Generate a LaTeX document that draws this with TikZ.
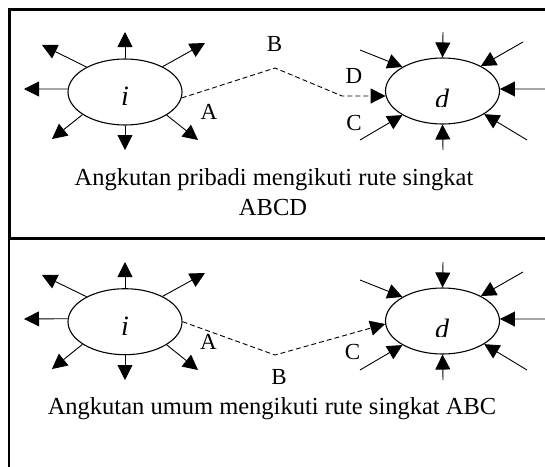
\documentclass[tikz,border=0pt]{standalone}
\usepackage{fontspec}
\setmainfont{Liberation Serif}
\usetikzlibrary{shapes.geometric,arrows.meta}
\begin{document}
\begin{tikzpicture}[x=1pt,y=-1pt,
  zone/.style={ellipse,draw,line width=1.1pt,minimum width=114pt,minimum height=66pt,inner sep=0pt},
  ray/.style={line width=0.9pt,-{Triangle[length=15pt,width=15pt]}},
  route/.style={line width=0.9pt,dash pattern=on 5pt off 3pt,-{Triangle[length=15pt,width=15pt]}},
  lbl/.style={font=\fontsize{23}{27}\selectfont,anchor=base,inner sep=0pt},
  captxt/.style={font=\fontsize{24.5}{29}\selectfont,anchor=base,inner sep=0pt},
  zl/.style={font=\fontsize{28}{32}\selectfont\itshape,anchor=base,inner sep=0pt},
  boxline/.style={line width=2.7pt}]
\useasboundingbox (0,0) rectangle (545,466);
% frames
\draw[boxline] (546,9.5) -- (9.5,9.5) -- (9.5,238.5);
\draw[boxline] (546,238.5) -- (9,238.5) -- (9,467);

% ---------- top panel ----------
\node[zone] (i1) at (125,92) {};
\node[zone] (d1) at (442.5,91) {};
\node[zl] (ti1) at (125,105.5) {i};
\begin{scope}
  \clip (420,80) rectangle (470,106);
  \node[zl] (td1) at (442,108) {d};
\end{scope}
\coordinate (i1n) at (125,32);
\coordinate (i1s) at (125,150);
\coordinate (i1w) at (24,89);
\coordinate (i1nw) at (42,45);
\coordinate (i1ne) at (205,43);
\coordinate (i1sw) at (52,139);
\coordinate (i1se) at (198,140);
\draw[ray] (i1.north) -- (i1n);
\draw[ray] (i1.south) -- (i1s);
\draw[ray] (i1.177) -- (i1w);
\draw[ray] (i1.147) -- (i1nw);
\draw[ray] (i1.34) -- (i1ne);
\draw[ray] (i1.208) -- (i1sw);
\draw[ray] (i1.-29) -- (i1se);
\coordinate (d1n) at (443,32);
\coordinate (d1s) at (443,150);
\coordinate (d1e) at (545,89);
\coordinate (d1nw) at (360,50);
\coordinate (d1ne) at (523,42);
\coordinate (d1sw) at (360,140);
\coordinate (d1se) at (527,140);
\draw[ray] (d1n) -- (d1.north);
\draw[ray] (d1s) -- (d1.south);
\draw[ray] (d1e) -- (d1.2);
\draw[ray] (d1nw) -- (d1.149);
\draw[ray] (d1ne) -- (d1.33);
\draw[ray] (d1sw) -- (d1.211);
\draw[ray] (d1se) -- (d1.-29.5);
\coordinate (b1) at (275,68);
\coordinate (c1) at (342,96);
\draw[route] (i1.-6) -- (b1) -- (c1) -- (d1.185);
\node[lbl] (la1) at (209,119.3) {A};
\node[lbl] (lb1) at (274.5,51.7) {B};
\node[lbl] (ld1) at (354,83.3) {D};
\node[lbl] (lc1) at (354,130) {C};
\node[captxt] (t1) at (274,185) {Angkutan pribadi mengikuti rute singkat};
\node[captxt] (t1b) at (273,215) {ABCD};

% ---------- bottom panel ----------
\node[zone] (i2) at (125,321.7) {};
\node[zone] (d2) at (442.5,321) {};
\node[zl] (ti2) at (125,335.2) {i};
\begin{scope}
  \clip (420,310) rectangle (470,336);
  \node[zl] (td2) at (442,338) {d};
\end{scope}
\coordinate (i2n) at (125,262);
\coordinate (i2s) at (125,380);
\coordinate (i2w) at (24,319);
\coordinate (i2nw) at (42,275);
\coordinate (i2ne) at (205,273);
\coordinate (i2sw) at (52,369);
\coordinate (i2se) at (198,370);
\draw[ray] (i2.north) -- (i2n);
\draw[ray] (i2.south) -- (i2s);
\draw[ray] (i2.177) -- (i2w);
\draw[ray] (i2.147) -- (i2nw);
\draw[ray] (i2.34) -- (i2ne);
\draw[ray] (i2.208) -- (i2sw);
\draw[ray] (i2.-29) -- (i2se);
\coordinate (d2n) at (443,262);
\coordinate (d2s) at (443,380);
\coordinate (d2e) at (545,319);
\coordinate (d2nw) at (360,280);
\coordinate (d2ne) at (523,272);
\coordinate (d2sw) at (360,370);
\coordinate (d2se) at (527,370);
\draw[ray] (d2n) -- (d2.north);
\draw[ray] (d2s) -- (d2.south);
\draw[ray] (d2e) -- (d2.2);
\draw[ray] (d2nw) -- (d2.149);
\draw[ray] (d2ne) -- (d2.33);
\draw[ray] (d2sw) -- (d2.211);
\draw[ray] (d2se) -- (d2.-29.5);
\coordinate (b2) at (275,355);
\draw[route] (i2.east) -- (b2) -- (d2.183);
\node[lbl] (la2) at (208.5,349) {A};
\node[lbl] (lb2) at (279,384) {B};
\node[lbl] (lc2) at (352.5,359) {C};
\node[captxt] (t2) at (272,414) {Angkutan umum mengikuti rute singkat ABC};
\end{tikzpicture}
\end{document}
